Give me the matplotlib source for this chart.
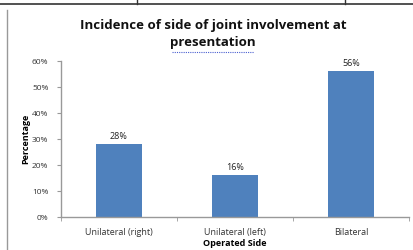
import numpy as np
import matplotlib.pyplot as plt
from matplotlib.lines import Line2D

categories = ["Unilateral (right)", "Unilateral (left)", "Bilateral"]
values = [28, 16, 56]
y_ticks = [0, 10, 20, 30, 40, 50, 60]

W, H = 413, 250
fig = plt.figure(figsize=(W / 100, H / 100), dpi=100)
plt.rcParams['font.family'] = ['Open Sans', 'DejaVu Sans']

# axes box in pixel coords: x 61..409, y 61..217 (from top)
ax = fig.add_axes([61 / W, 1 - 217 / H, 348 / W, 156 / H])
x = np.arange(len(categories))
bars = ax.bar(x, values, width=0.4, color='#4f81bd')
ax.set_xlim(-0.5, 2.5)
ax.set_ylim(0, 60)

ax.set_yticks(y_ticks)
ax.set_yticklabels([f"{t}%" for t in y_ticks], fontsize=6, color='#333333')
ax.set_xticks(x)
ax.set_xticklabels(categories, fontsize=6.5, color='#333333')
ax.tick_params(axis='x', length=0, pad=8)
ax.set_xticks([-0.5, 0.5, 1.5, 2.5], minor=True)
ax.tick_params(axis='x', which='minor', length=3, color='#999999')
ax.tick_params(axis='y', length=3, color='#999999', pad=6)

for s in ['top', 'right']:
    ax.spines[s].set_visible(False)
for s in ['left', 'bottom']:
    ax.spines[s].set_color('#999999')
    ax.spines[s].set_linewidth(1.0)

for b, v in zip(bars, values):
    ax.text(b.get_x() + b.get_width() / 2, v + 1.2, f"{v}%", ha='center', va='bottom',
            fontsize=6.5, color='#222222')

ax.set_ylabel("Percentage", fontsize=6.5, fontweight='bold', labelpad=1.5)
ax.set_xlabel("Operated Side", fontsize=6.5, fontweight='bold', labelpad=1)

fig.text(213 / W, 1 - 25 / H, "Incidence of side of joint involvement at", ha='center', va='center',
         fontsize=9.5, fontweight='bold', color='#111111')
fig.text(213 / W, 1 - 43 / H, "presentation", ha='center', va='center',
         fontsize=9.5, fontweight='bold', color='#111111')
# spell-check underline
fig.add_artist(Line2D([172 / W, 254 / W], [1 - 52 / H, 1 - 52 / H], color='#4a5fd0', lw=0.8, ls=(0, (1, 1))))

# surrounding table borders
fig.add_artist(Line2D([0, 1], [1 - 3.5 / H, 1 - 3.5 / H], color='#333333', lw=1.2))
fig.add_artist(Line2D([137 / W, 137 / W], [1 - 4 / H, 1], color='#333333', lw=1.0))
fig.add_artist(Line2D([345 / W, 345 / W], [1 - 4 / H, 1], color='#333333', lw=1.0))
fig.add_artist(Line2D([7 / W, 7 / W], [0, 1 - 10 / H], color='#999999', lw=1.0))

fig.savefig("out.png", dpi=100)
